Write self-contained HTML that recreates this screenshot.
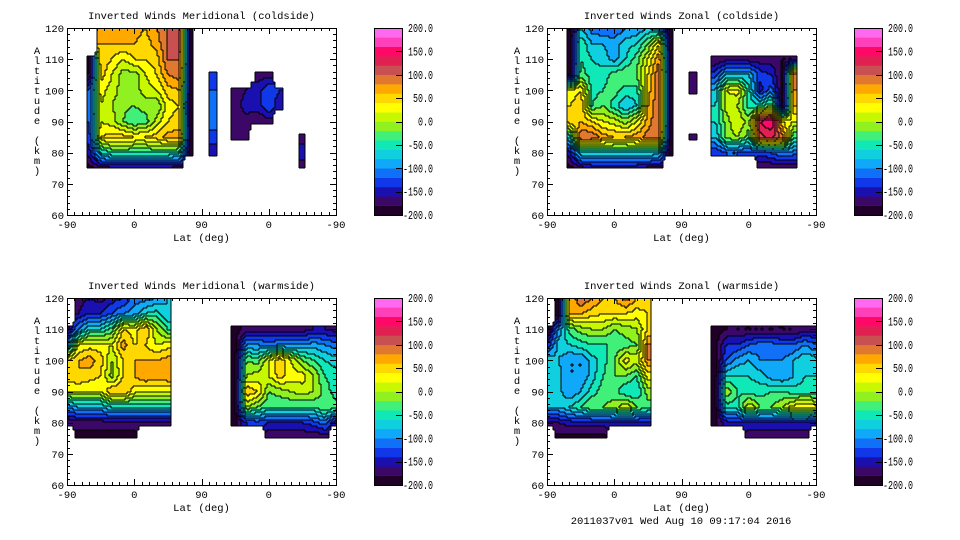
<!DOCTYPE html>
<html><head><meta charset="utf-8">
<style>
html,body{margin:0;padding:0;background:#fff;}
svg{display:block;font-family:"Liberation Mono","DejaVu Sans Mono",monospace;font-size:10.5px;}
</style></head>
<body>
<svg id="chart" width="960" height="540" viewBox="0 0 960 540" xmlns="http://www.w3.org/2000/svg">
<rect width="960" height="540" fill="#fff"/>
<text x="681" y="524" text-anchor="middle">2011037v01 Wed Aug 10 09:17:04 2016</text>
</svg>
<script>
const N=null;
const alts=[120,115,110,105,100,95,90,85,80,75];
const latTickLabels=["-90","0","90","0","-90"];
const altTickLabels=[120,110,100,90,80,70,60];
const cbarLabels=["200.0","150.0","100.0","50.0","0.0","-50.0","-100.0","-150.0","-200.0"];
const bandColors=["#200028","#3c0868","#1a10b0","#1038e8","#1070f8","#10a8f8","#10d0e0","#10e8b8","#40f078","#90f020","#c8f800","#ffff00","#ffd800","#ffa800","#e07830","#c85050","#e02050","#ff0868","#ff40b8","#ff68f0"];
const merCold=[N,N,
[N,N,-190,-180,-120,-110,-120,-130,-150,-190],
[70,60,55,50,30,20,20,40,-60,-170],
[70,60,40,20,10,0,10,50,-40,-170],
[70,60,20,-10,-10,-15,-20,50,-40,-170],
[70,60,40,-10,-10,-20,-40,40,-40,-170],
[60,50,40,20,10,-10,-30,40,-40,-170],
[80,70,50,40,20,-20,10,50,-40,-170],
[100,100,100,80,50,30,40,70,-40,-170],
[110,110,100,90,60,40,50,70,-50,-170],
[-190,-190,-190,-190,-190,-190,-190,-190,-190,N],
N,
[N,N,N,-130,-120,-110,-110,-130,-150,N],
N,
[N,N,N,N,-170,-170,-170,-180,N,N],
[N,N,N,N,-160,-150,-170,-180,N,N],
[N,N,N,-170,-150,-150,-180,N,N,N],
[N,N,N,-170,-120,-120,-170,N,N,N],
[N,N,N,N,-140,-160,N,N,N,N],
N,
[N,N,N,N,N,N,N,-170,-150,-170],
N,N,N];
const zonCold=[N,N,
[-190,-190,-190,-190,20,40,50,-60,-150,-190],
[-80,-40,-40,-30,40,60,60,100,-60,-170],
[-110,-80,-60,-50,-50,-40,40,100,-60,-160],
[-120,-80,-70,-50,-40,-20,20,70,-60,-160],
[-120,-90,-90,-30,-30,-50,10,60,-60,-160],
[-100,-70,-60,-20,-50,-80,-10,60,-60,-160],
[-100,-60,-30,-20,-50,-60,20,70,-60,-160],
[-80,-20,20,40,50,60,70,90,-60,-170],
[-100,40,80,100,100,100,100,90,-70,-170],
[-190,-190,-190,-190,-190,-190,-190,-190,-190,N],
N,
[N,N,N,-180,-170,N,N,-180,N,N],
N,
[N,N,-180,-130,-80,-60,-60,-80,-140,N],
[N,N,-170,-80,20,10,-10,-10,-120,N],
[N,N,-170,-80,30,0,20,0,-120,N],
[N,N,-170,-80,-50,-50,-10,-30,-130,N],
[N,N,-170,-130,-150,-50,140,110,-130,-180],
[N,N,-170,-140,-110,-20,160,130,-120,-180],
[N,N,-180,-190,-190,-190,40,90,-100,-180],
[N,N,-180,100,80,60,20,-40,-110,-180],
N,N];
const merWarm=[
[N,N,-170,-100,40,50,20,-100,-180,N],
[-170,-160,-100,20,60,60,20,-80,-170,-190],
[-160,-140,-60,30,70,50,20,-80,-170,-190],
[-170,-140,-60,30,50,40,20,-80,-170,-190],
[-150,-120,-30,20,0,-10,60,-60,-170,-190],
[-140,-100,40,70,40,40,60,-60,-170,-190],
[-110,-90,30,40,60,60,30,-60,-170,-190],
[-110,-60,60,40,60,80,20,-60,-170,N],
[-100,-50,0,20,60,70,20,-60,-170,N],
[-80,-80,-40,30,70,80,20,-60,-170,N],
N,N,N,N,N,
[N,N,-190,-190,-190,-190,-190,-190,-190,N],
[N,N,-170,-100,-20,0,60,0,-140,N],
[N,N,-170,-100,-30,10,40,-20,-130,N],
[N,N,-170,-110,20,20,-20,-40,-140,-180],
[N,N,-170,-100,60,50,-10,-40,-140,-180],
[N,N,-170,-100,20,30,0,-40,-140,-180],
[N,N,-170,-100,-20,30,10,-40,-140,-180],
[N,N,-160,-90,-40,0,0,-40,-130,-180],
[N,N,-160,-100,-60,-40,-30,-20,-110,-180],
[N,N,-170,-110,-70,-50,-50,-30,-160,N]];
const zonWarm=[
[N,N,-190,-140,-60,-60,-60,-80,-160,N],
[-190,-190,-100,-70,-80,-70,-70,-80,-160,-190],
[60,60,-30,-60,-100,-100,-100,-60,-150,-190],
[100,60,-10,-50,-100,-100,-80,-40,-150,-190],
[80,50,0,-40,-70,-70,-50,-20,-150,-190],
[60,40,0,-40,-50,-40,-30,-20,-150,-190],
[60,40,-20,-40,-20,-20,-30,-10,-150,N],
[90,40,-10,-30,30,-20,-60,20,-150,N],
[60,30,0,-20,10,-40,-60,-20,-150,N],
[50,40,40,80,80,30,-10,-30,-150,N],
N,N,N,N,N,
[N,N,-190,-190,-190,-190,-190,-190,-190,N],
[N,N,-180,-140,-120,-60,0,-50,-150,N],
[N,N,-180,-140,-90,-60,-40,-50,-150,N],
[N,N,-180,-120,-80,-60,-50,20,-140,-180],
[N,N,-180,-110,-100,-70,-50,-20,-140,-180],
[N,N,-180,-110,-100,-90,-40,-20,-140,-180],
[N,N,-180,-120,-100,-100,-40,0,-140,-180],
[N,N,-180,-120,-80,-80,-50,30,-140,-180],
[N,N,-170,-100,-60,-60,-50,40,-140,-180],
[N,N,-170,-120,-70,-60,-50,30,-160,N]];
const panelTitles=["Inverted Winds Meridional (coldside)","Inverted Winds Zonal (coldside)","Inverted Winds Meridional (warmside)","Inverted Winds Zonal (warmside)"];
const panelData=[merCold,zonCold,merWarm,zonWarm];
const panelNames=["meridional-coldside","zonal-coldside","meridional-warmside","zonal-warmside"];

const NS="http://www.w3.org/2000/svg";
const svg=document.getElementById('chart');
const W=269,H=187,PW=360;
const origins=[[67,28],[547,28],[67,298],[547,298]];
function mk(tag,attrs,parent){const e=document.createElementNS(NS,tag);for(const k in attrs)e.setAttribute(k,attrs[k]);parent.appendChild(e);return e;}
function val(data,i,j){if(i<0||i>24||j<0||j>9)return null;const c=data[i];if(!c)return null;const v=c[j];return v===undefined?null:v;}
function sample(data,p,alt){
  if(alt<75.3)return null;
  const fi=p/15,fj=(120-alt)/5;
  const ni=Math.round(fi),nj=Math.round(fj);
  if(nj<0||nj>9||ni<0||ni>24)return null;
  if(val(data,ni,nj)===null)return null;
  const dx=fi-ni,dy=fj-nj;
  if(dx>0.3&&val(data,ni+1,nj)===null)return null;
  if(dx<-0.3&&val(data,ni-1,nj)===null)return null;
  if(dy>0.2&&val(data,ni,nj+1)===null)return null;
  if(dy<-0.2&&val(data,ni,nj-1)===null)return null;
  const i0=Math.max(0,Math.min(23,Math.floor(fi))),j0=Math.max(0,Math.min(8,Math.floor(fj)));
  const tx=Math.max(0,Math.min(1,fi-i0)),ty=Math.max(0,Math.min(1,fj-j0));
  let s=0,w=0;
  [[i0,j0,(1-tx)*(1-ty)],[i0+1,j0,tx*(1-ty)],[i0,j0+1,(1-tx)*ty],[i0+1,j0+1,tx*ty]].forEach(([a,b,ww])=>{const v=val(data,a,b);if(v!==null&&ww>0){s+=v*ww;w+=ww;}});
  if(w===0)return val(data,ni,nj);
  return s/w;
}
function band(v){if(v===null)return -1;return Math.max(0,Math.min(19,Math.floor((v+200)/20)));}

panelData.forEach((data,k)=>{
  const [L,T]=origins[k];
  const xS=p=>L+p/PW*W;
  const yS=a=>T+(120-a)/60*H;
  const g=mk('g',{},svg);
  
  
  const t=mk('text',{x:L+W/2,y:T-9,'text-anchor':'middle'},g);
  t.textContent=panelTitles[k];
  
  
  const field=mk('g',{},g);
  
  
  const lines=mk('g',{fill:'#000'},g);
  
  
  const step=2;
  const nx=Math.ceil(W/step),ny=Math.ceil(H/step);
  let prev=null;
  for(let r=0;r<ny;r++){
    const py=r*step+step/2;
    const alt=120-py/H*60;
    const row=[];
    for(let c=0;c<nx;c++){const px=c*step+step/2;row.push(band(sample(data,px/W*PW,alt)));}
    let c=0;
    while(c<nx){
      const b=row[c];let e=c;while(e+1<nx&&row[e+1]===b)e++;
      if(b>=0){
        const cell=mk('rect',{x:L+c*step,y:T+r*step,width:(e-c+1)*step,height:Math.min(step,H-r*step),fill:bandColors[b]},field);
        
        
      }
      if(e+1<nx&&(b>=0||row[e+1]>=0)){
        const ln=mk('rect',{x:L+(e+1)*step-0.5,y:T+r*step,width:1,height:step},lines);
        
        
      }
      c=e+1;
    }
    if(prev){
      let c2=0;
      while(c2<nx){
        if(row[c2]!==prev[c2]){let e=c2;while(e+1<nx&&row[e+1]!==prev[e+1])e++;
          const ln=mk('rect',{x:L+c2*step,y:T+r*step-0.5,width:(e-c2+1)*step,height:1},lines);
          
          
          c2=e+1;}else c2++;
      }
    }
    prev=row;
  }
  const fr=mk('rect',{x:L+0.5,y:T+0.5,width:W,height:H,fill:'none',stroke:'#000','stroke-width':1},g);
  
  
  const ax=mk('g',{stroke:'#000','stroke-width':1},g);
  
  
  for(let p=0;p<=PW;p+=10){
    const len=(p%90===0)?6:3;const x=Math.round(xS(p))+0.5;
    mk('line',{x1:x,y1:T+H,x2:x,y2:T+H-len},ax);
    mk('line',{x1:x,y1:T,x2:x,y2:T+len},ax);
  }
  for(let a=60;a<=120;a+=2){
    const len=(a%10===0)?6:3;const y=Math.round(yS(a))+0.5;
    mk('line',{x1:L,y1:y,x2:L+len,y2:y},ax);
    mk('line',{x1:L+W,y1:y,x2:L+W-len,y2:y},ax);
  }
  latTickLabels.forEach((s,i)=>{
    const tl=mk('text',{x:xS(i*90),y:T+H+13,'text-anchor':'middle'},g);
    tl.textContent=s;
    
    
  });
  altTickLabels.forEach(a=>{
    const tl=mk('text',{x:L-3,y:yS(a)+4,'text-anchor':'end'},g);
    tl.textContent=a;
    
    
  });
  const xt=mk('text',{x:L+W/2,y:T+H+26,'text-anchor':'middle'},g);
  xt.textContent='Lat (deg)';
  
  
  const yt=mk('g',{},g);
  
  
  'Altitude (km)'.split('').forEach((ch,i)=>{
    const tc=mk('text',{x:L-30,y:T+26+i*10,'text-anchor':'middle'},yt);tc.textContent=ch;
  });
  const cb=mk('g',{},g);
  
  
  const CX=L+307,CW=28,bh=H/20;
  bandColors.forEach((col,i)=>{
    const br=mk('rect',{x:CX,y:T+H-(i+1)*bh,width:CW,height:bh+0.3,fill:col},cb);
    
    
  });
  mk('rect',{x:CX+0.5,y:T+0.5,width:CW,height:H,fill:'none',stroke:'#000'},cb);
  cbarLabels.forEach((s,i)=>{
    const y=T+i*H/8;
    if(i>0&&i<8)mk('line',{x1:CX+CW-6,y1:Math.round(y)+0.5,x2:CX+CW,y2:Math.round(y)+0.5,stroke:'#000'},cb);
    const len=s.length*5;
    const cl=mk('text',{x:CX+59-len,y:y+4,textLength:len,lengthAdjust:'spacingAndGlyphs','font-size':'11.5px'},cb);
    cl.textContent=s;
    
    
  });
});
</script>
</body></html>
